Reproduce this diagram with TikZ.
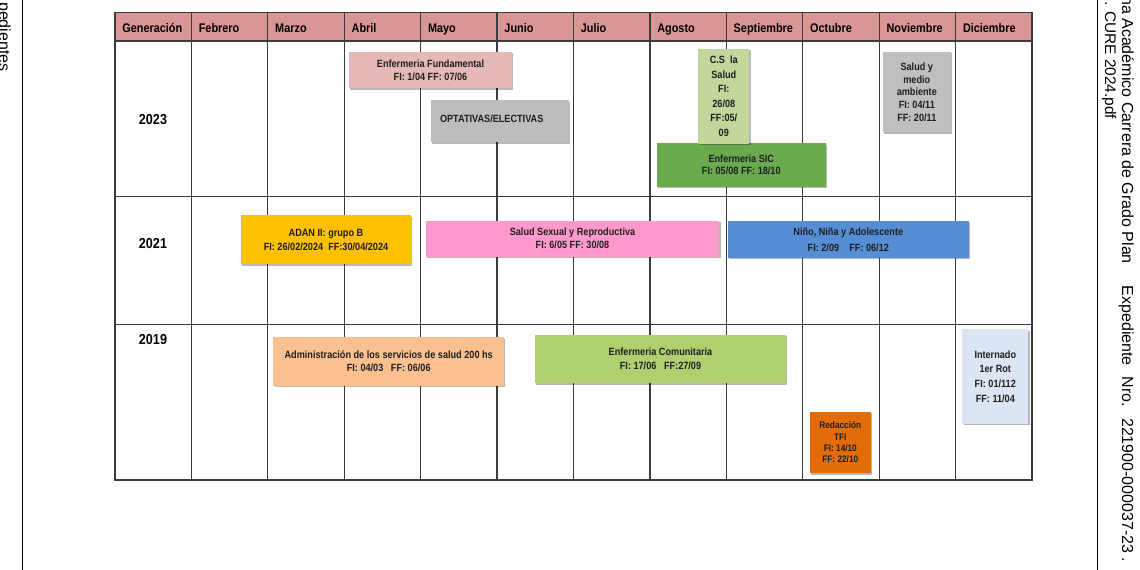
\documentclass[tikz,border=0pt]{standalone}
\usepackage{fontspec}
\setmainfont{Liberation Sans}
\newfontfamily\tabfont[FakeStretch=0.87]{Liberation Sans}
\newfontfamily\sidefont{Liberation Sans}
\usetikzlibrary{shadows}
\definecolor{hdrc}{HTML}{D99694}
\definecolor{gridc}{HTML}{3C3C3C}
\definecolor{txtc}{HTML}{1F1F1F}
\definecolor{efc}{HTML}{E6B9B8}
\definecolor{optc}{HTML}{BDBDBD}
\definecolor{csc}{HTML}{C3D69B}
\definecolor{sicc}{HTML}{6AAA4F}
\definecolor{smac}{HTML}{BFBFBF}
\definecolor{adanc}{HTML}{FFC000}
\definecolor{ssrc}{HTML}{FF99CC}
\definecolor{nnac}{HTML}{558ED5}
\definecolor{admc}{HTML}{FAC090}
\definecolor{comc}{HTML}{B0D070}
\definecolor{tfic}{HTML}{E36C09}
\definecolor{intc}{HTML}{DCE6F2}
\tikzset{
  gridline/.style={draw=gridc, line width=1.2pt},
  sideline/.style={draw=black, line width=0.9pt},
  hdr/.style={anchor=base west, inner sep=0pt, text=black,
    font=\tabfont\bfseries\fontsize{12.5}{14}\selectfont},
  yr/.style={inner sep=0pt, text=black,
    font=\tabfont\bfseries\fontsize{14.5}{16}\selectfont},
  course/.style={rectangle, inner sep=0pt, align=center, text=txtc,
    font={\tabfont\bfseries\fontsize{10.5}{#1}\selectfont},
    drop shadow={shadow xshift=1.2pt, shadow yshift=-1.6pt, opacity=0.28, fill=black}},
  course/.default=13,
  side/.style={rotate=-90, anchor=base west, inner sep=0pt, text=black,
    font=\sidefont\fontsize{16}{18}\selectfont}
}
\begin{document}
\begin{tikzpicture}[x=1pt, y=-1pt]
\useasboundingbox (0,0) rectangle (1140,570);
\clip (0,0) rectangle (1140,570);
\fill[white] (0,0) rectangle (1140,570);

% side lines and clipped side texts
\draw[sideline] (22.3,0) -- (22.3,570);
\draw[sideline] (1097.5,0) -- (1097.5,570);
\node[side] (sleft) at (-1,2) {pedientes};
\node[side] (sr1) at (1122,-4) {na Académico Carrera de Grado Plan\hspace{22pt}Expediente\hspace{11pt}Nro.\hspace{11pt}221900-000037-23 .};
\node[side, font=\sidefont\fontsize{15.4}{18}\selectfont] (sr2) at (1105,1) {. CURE 2024.pdf};

% header band
\fill[hdrc] (115,12.3) rectangle (1032,41);

% grid
\foreach \i in {1,...,11} \draw[gridline] ({115+76.417*\i},12.3) -- ({115+76.417*\i},480);
\foreach \y in {41,196.7,324.3} \draw[gridline] (115,\y) -- (1032,\y);
\draw[gridline] (115,12.3) rectangle (1032,480);

% header labels
\foreach \m [count=\c from 0] in {Generación,Febrero,Marzo,Abril,Mayo,Junio,Julio,Agosto,Septiembre,Octubre,Noviembre,Diciembre}
  \node[hdr] (h\c) at ({115+76.417*\c+7.2},32.3) {\m};

% years
\node[yr] (y2023) at (153,119.3) {2023};
\node[yr] (y2021) at (153,244) {2021};
\node[yr] (y2019) at (153,339.3) {2019};

% 2023 row
\node[course=12.7, fill=efc, minimum width=163pt, minimum height=36.6pt] (ef) at (430.5,70) {Enfermeria Fundamental\\FI: 1/04 FF: 07/06};
\node[course, fill=optc, minimum width=138pt, minimum height=42.3pt, align=left, text width=120pt, inner xsep=9pt] (opt) at (500,121.2) {\raisebox{4.5pt}{OPTATIVAS/ELECTIVAS}};
\node[course=12.4, fill=sicc, minimum width=168.7pt, minimum height=43.4pt] (sic) at (741.3,165) {Enfermeria SIC\\FI: 05/08 FF: 18/10};
\node[course=14.6, fill=csc, minimum width=51pt, minimum height=95pt] (cs) at (723.8,96.3) {C.S\ \ la\\Salud\\FI:\\26/08\\FF:05/\\09};
\node[course=12.7, fill=smac, minimum width=68.3pt, minimum height=80.6pt] (sma) at (916.8,92) {Salud y\\medio\\ambiente\\FI: 04/11\\FF: 20/11};

% 2021 row
\node[course=14.4, fill=adanc, minimum width=170pt, minimum height=49.3pt] (adan) at (326,239.7) {ADAN II: grupo B\\FI: 26/02/2024\ \ FF:30/04/2024};
\node[course=13, fill=ssrc, minimum width=293.6pt, minimum height=36pt] (ssr) at (572.5,238.7) {Salud Sexual y Reproductiva\\FI: 6/05 FF: 30/08};
\node[course=16, fill=nnac, minimum width=241.3pt, minimum height=36.6pt] (nna) at (848.3,239.5) {Niño, Niña y Adolescente\\FI: 2/09\ \ \ \ FF: 06/12};

% 2019 row
\node[course=12.6, fill=admc, minimum width=230.7pt, minimum height=48.3pt] (adm) at (388.7,361.5) {Administración de los servicios de salud 200 hs\\FI: 04/03\ \ \ FF: 06/06};
\node[course=14.3, fill=comc, minimum width=251pt, minimum height=48.3pt] (com) at (660.5,359) {Enfermeria Comunitaria\\FI: 17/06\ \ \ FF:27/09};
\node[course, fill=tfic, minimum width=60.7pt, minimum height=61.3pt, font={\tabfont\bfseries\fontsize{9.5}{11.3}\selectfont}] (tfi) at (840.3,442.5) {Redacción\\TFI\\FI: 14/10\\FF: 22/10};
\node[course=14.7, fill=intc, minimum width=66pt, minimum height=94.3pt] (int) at (995.3,376.5) {Internado\\1er Rot\\FI: 01/112\\FF: 11/04};
\end{tikzpicture}
\end{document}
